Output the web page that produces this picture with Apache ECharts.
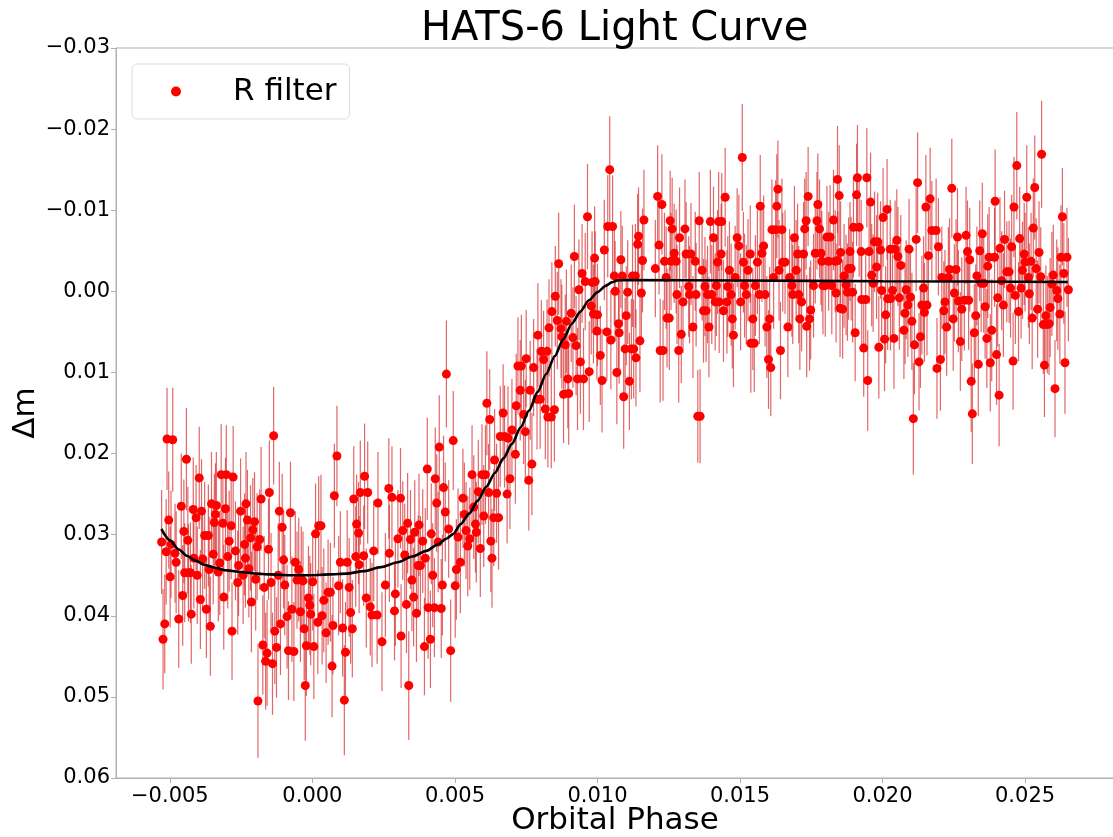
<!DOCTYPE html>
<html>
<head>
<meta charset="utf-8">
<title>HATS-6 Light Curve</title>
<script src="https://cdn.jsdelivr.net/npm/echarts@6/dist/echarts.min.js"></script>
<style>
  html, body { margin: 0; padding: 0; background: #ffffff; }
  #chart { width: 1113px; height: 837px; }
</style>
</head>
<body>
<div id="chart"></div>
<script>
// Observed R-filter photometry: orbital phase, differential magnitude and its 1-sigma error.
const phase = [
  -0.00529, -0.00524, -0.00518, -0.00513, -0.00510, -0.00504, -0.00499, -0.00496, -0.00490, -0.00482,
  -0.00478, -0.00469, -0.00460, -0.00455, -0.00451, -0.00448, -0.00442, -0.00437, -0.00435, -0.00428,
  -0.00425, -0.00418, -0.00416, -0.00408, -0.00404, -0.00397, -0.00393, -0.00389, -0.00385, -0.00378,
  -0.00372, -0.00365, -0.00362, -0.00358, -0.00354, -0.00348, -0.00344, -0.00340, -0.00337, -0.00330,
  -0.00325, -0.00320, -0.00314, -0.00311, -0.00305, -0.00302, -0.00297, -0.00292, -0.00285, -0.00282,
  -0.00278, -0.00270, -0.00262, -0.00259, -0.00252, -0.00243, -0.00238, -0.00235, -0.00233, -0.00228,
  -0.00223, -0.00217, -0.00214, -0.00209, -0.00203, -0.00199, -0.00194, -0.00191, -0.00185, -0.00180,
  -0.00174, -0.00169, -0.00164, -0.00159, -0.00154, -0.00151, -0.00145, -0.00140, -0.00136, -0.00132,
  -0.00126, -0.00120, -0.00116, -0.00112, -0.00106, -0.00101, -0.00097, -0.00089, -0.00084, -0.00077,
  -0.00072, -0.00065, -0.00060, -0.00054, -0.00048, -0.00042, -0.00039, -0.00033, -0.00029, -0.00025,
  -0.00021, -0.00014, -0.00009, -0.00006, 0.00001, 0.00005, 0.00011, 0.00019, 0.00022, 0.00030,
  0.00034, 0.00040, 0.00048, 0.00055, 0.00063, 0.00069, 0.00072, 0.00077, 0.00086, 0.00092,
  0.00098, 0.00106, 0.00112, 0.00116, 0.00122, 0.00129, 0.00134, 0.00140, 0.00145, 0.00152,
  0.00155, 0.00162, 0.00164, 0.00168, 0.00180, 0.00183, 0.00189, 0.00194, 0.00203, 0.00209,
  0.00215, 0.00227, 0.00230, 0.00244, 0.00256, 0.00268, 0.00270, 0.00279, 0.00288, 0.00291,
  0.00300, 0.00309, 0.00311, 0.00317, 0.00324, 0.00330, 0.00334, 0.00338, 0.00344, 0.00349,
  0.00355, 0.00359, 0.00365, 0.00371, 0.00374, 0.00379, 0.00387, 0.00393, 0.00396, 0.00403,
  0.00406, 0.00414, 0.00417, 0.00422, 0.00428, 0.00431, 0.00436, 0.00441, 0.00445, 0.00452,
  0.00456, 0.00460, 0.00466, 0.00470, 0.00478, 0.00485, 0.00494, 0.00501, 0.00505, 0.00511,
  0.00519, 0.00528, 0.00533, 0.00539, 0.00545, 0.00552, 0.00560, 0.00566, 0.00572, 0.00575,
  0.00582, 0.00589, 0.00595, 0.00601, 0.00607, 0.00612, 0.00618, 0.00622, 0.00626, 0.00630,
  0.00636, 0.00639, 0.00646, 0.00653, 0.00659, 0.00669, 0.00674, 0.00683, 0.00686, 0.00693,
  0.00700, 0.00712, 0.00715, 0.00721, 0.00729, 0.00733, 0.00741, 0.00747, 0.00750, 0.00759,
  0.00764, 0.00770, 0.00776, 0.00788, 0.00791, 0.00799, 0.00803, 0.00811, 0.00817, 0.00823,
  0.00826, 0.00830, 0.00838, 0.00840, 0.00849, 0.00852, 0.00859, 0.00864, 0.00872, 0.00875,
  0.00881, 0.00887, 0.00891, 0.00896, 0.00899, 0.00908, 0.00914, 0.00919, 0.00925, 0.00930,
  0.00935, 0.00940, 0.00946, 0.00951, 0.00957, 0.00965, 0.00971, 0.00978, 0.00981, 0.00986,
  0.00990, 0.00992, 0.00998, 0.01000, 0.01010, 0.01016, 0.01024, 0.01033, 0.01036, 0.01043,
  0.01047, 0.01053, 0.01059, 0.01062, 0.01068, 0.01074, 0.01076, 0.01082, 0.01087, 0.01092,
  0.01097, 0.01101, 0.01106, 0.01112, 0.01119, 0.01123, 0.01127, 0.01133, 0.01135, 0.01141,
  0.01144, 0.01149, 0.01154, 0.01158, 0.01163, 0.01203, 0.01211, 0.01216, 0.01220, 0.01226,
  0.01230, 0.01235, 0.01241, 0.01244, 0.01252, 0.01255, 0.01258, 0.01262, 0.01269, 0.01276,
  0.01279, 0.01285, 0.01288, 0.01294, 0.01300, 0.01307, 0.01311, 0.01320, 0.01323, 0.01328,
  0.01335, 0.01343, 0.01346, 0.01352, 0.01357, 0.01360, 0.01367, 0.01372, 0.01377, 0.01381,
  0.01386, 0.01391, 0.01396, 0.01401, 0.01407, 0.01413, 0.01417, 0.01421, 0.01425, 0.01427,
  0.01434, 0.01436, 0.01442, 0.01448, 0.01454, 0.01457, 0.01463, 0.01469, 0.01473, 0.01477,
  0.01483, 0.01490, 0.01496, 0.01502, 0.01508, 0.01512, 0.01516, 0.01522, 0.01528, 0.01536,
  0.01538, 0.01545, 0.01550, 0.01554, 0.01561, 0.01568, 0.01571, 0.01577, 0.01583, 0.01588,
  0.01594, 0.01600, 0.01604, 0.01608, 0.01612, 0.01618, 0.01625, 0.01629, 0.01633, 0.01637,
  0.01642, 0.01647, 0.01650, 0.01658, 0.01668, 0.01674, 0.01682, 0.01685, 0.01691, 0.01697,
  0.01702, 0.01706, 0.01710, 0.01716, 0.01723, 0.01727, 0.01732, 0.01734, 0.01739, 0.01744,
  0.01748, 0.01758, 0.01764, 0.01770, 0.01773, 0.01779, 0.01784, 0.01787, 0.01791, 0.01799,
  0.01805, 0.01811, 0.01816, 0.01822, 0.01828, 0.01834, 0.01837, 0.01842, 0.01843, 0.01848,
  0.01851, 0.01853, 0.01860, 0.01865, 0.01872, 0.01877, 0.01881, 0.01886, 0.01890, 0.01895,
  0.01898, 0.01904, 0.01909, 0.01912, 0.01918, 0.01925, 0.01927, 0.01934, 0.01941, 0.01945,
  0.01948, 0.01953, 0.01958, 0.01962, 0.01967, 0.01972, 0.01979, 0.01983, 0.01987, 0.01993,
  0.01997, 0.02002, 0.02007, 0.02011, 0.02016, 0.02018, 0.02027, 0.02028, 0.02035, 0.02040,
  0.02044, 0.02050, 0.02054, 0.02059, 0.02064, 0.02075, 0.02079, 0.02083, 0.02089, 0.02093,
  0.02098, 0.02103, 0.02108, 0.02112, 0.02118, 0.02123, 0.02128, 0.02133, 0.02138, 0.02144,
  0.02147, 0.02152, 0.02156, 0.02161, 0.02167, 0.02173, 0.02188, 0.02191, 0.02196, 0.02203,
  0.02208, 0.02215, 0.02219, 0.02225, 0.02231, 0.02235, 0.02243, 0.02248, 0.02252, 0.02258,
  0.02263, 0.02266, 0.02273, 0.02278, 0.02287, 0.02293, 0.02298, 0.02302, 0.02306, 0.02311,
  0.02315, 0.02322, 0.02327, 0.02331, 0.02336, 0.02341, 0.02346, 0.02350, 0.02355, 0.02360,
  0.02366, 0.02369, 0.02374, 0.02378, 0.02383, 0.02393, 0.02395, 0.02400, 0.02404, 0.02409,
  0.02412, 0.02418, 0.02424, 0.02428, 0.02436, 0.02444, 0.02449, 0.02453, 0.02458, 0.02461,
  0.02466, 0.02471, 0.02477, 0.02481, 0.02486, 0.02491, 0.02497, 0.02500, 0.02506, 0.02512,
  0.02515, 0.02521, 0.02525, 0.02529, 0.02534, 0.02539, 0.02544, 0.02549, 0.02555, 0.02558,
  0.02564, 0.02568, 0.02573, 0.02578, 0.02584, 0.02588, 0.02594, 0.02599, 0.02605, 0.02611,
  0.02615, 0.02622, 0.02626, 0.02631, 0.02636, 0.02640, 0.02647, 0.02652
];

const deltaMag = [
  0.0309, 0.0429, 0.0410, 0.0321, 0.0182, 0.0282, 0.0352, 0.0312, 0.0183, 0.0323,
  0.0334, 0.0404, 0.0265, 0.0375, 0.0296, 0.0347, 0.0207, 0.0307, 0.0347, 0.0347,
  0.0398, 0.0269, 0.0329, 0.0279, 0.0350, 0.0230, 0.0380, 0.0271, 0.0330, 0.0301,
  0.0392, 0.0301, 0.0343, 0.0413, 0.0262, 0.0324, 0.0285, 0.0275, 0.0264, 0.0346,
  0.0335, 0.0226, 0.0286, 0.0377, 0.0268, 0.0226, 0.0327, 0.0308, 0.0289, 0.0419,
  0.0229, 0.0320, 0.0359, 0.0338, 0.0271, 0.0350, 0.0312, 0.0329, 0.0262, 0.0282,
  0.0342, 0.0304, 0.0383, 0.0294, 0.0284, 0.0355, 0.0315, 0.0505, 0.0306, 0.0256,
  0.0436, 0.0365, 0.0456, 0.0446, 0.0318, 0.0248, 0.0359, 0.0459, 0.0178, 0.0419,
  0.0439, 0.0350, 0.0271, 0.0410, 0.0291, 0.0331, 0.0362, 0.0401, 0.0443, 0.0273,
  0.0392, 0.0444, 0.0334, 0.0356, 0.0343, 0.0395, 0.0355, 0.0357, 0.0416, 0.0486,
  0.0437, 0.0378, 0.0387, 0.0398, 0.0358, 0.0438, 0.0299, 0.0408, 0.0289, 0.0289,
  0.0400, 0.0381, 0.0421, 0.0371, 0.0371, 0.0462, 0.0412, 0.0252, 0.0203, 0.0363,
  0.0334, 0.0415, 0.0504, 0.0445, 0.0334, 0.0365, 0.0396, 0.0416, 0.0256, 0.0327,
  0.0287, 0.0298, 0.0337, 0.0248, 0.0326, 0.0228, 0.0378, 0.0248, 0.0389, 0.0399,
  0.0320, 0.0399, 0.0261, 0.0432, 0.0362, 0.0243, 0.0323, 0.0254, 0.0394, 0.0373,
  0.0305, 0.0255, 0.0425, 0.0295, 0.0325, 0.0386, 0.0286, 0.0486, 0.0306, 0.0356,
  0.0377, 0.0297, 0.0397, 0.0338, 0.0288, 0.0338, 0.0308, 0.0438, 0.0329, 0.0219,
  0.0390, 0.0429, 0.0299, 0.0350, 0.0390, 0.0231, 0.0261, 0.0309, 0.0192, 0.0391,
  0.0362, 0.0242, 0.0272, 0.0102, 0.0293, 0.0443, 0.0184, 0.0363, 0.0343, 0.0303,
  0.0334, 0.0255, 0.0275, 0.0295, 0.0314, 0.0305, 0.0226, 0.0266, 0.0287, 0.0297,
  0.0247, 0.0317, 0.0226, 0.0277, 0.0226, 0.0138, 0.0248, 0.0158, 0.0308, 0.0329,
  0.0279, 0.0208, 0.0249, 0.0279, 0.0179, 0.0150, 0.0179, 0.0250, 0.0181, 0.0231,
  0.0171, 0.0201, 0.0141, 0.0092, 0.0122, 0.0092, 0.0152, 0.0173, 0.0083, 0.0233,
  0.0122, 0.0213, 0.0094, 0.0133, 0.0054, 0.0133, 0.0074, 0.0084, 0.0145, 0.0074,
  0.0155, 0.0045, 0.0155, 0.0025, 0.0146, 0.0006, 0.0036, -0.0034, 0.0046, 0.0056,
  0.0127, 0.0066, 0.0037, 0.0108, 0.0126, 0.0027, 0.0057, -0.0043, 0.0067, 0.0108,
  -0.0002, 0.0087, -0.0022, 0.0108, -0.0012, -0.0092, 0.0099, 0.0018, -0.0011, 0.0028,
  -0.0041, -0.0012, 0.0049, 0.0029, 0.0079, 0.0110, -0.0051, 0.0050, -0.0080, -0.0150,
  0.0060, -0.0080, -0.0019, 0.0000, 0.0100, 0.0040, 0.0051, -0.0039, -0.0019, 0.0130,
  0.0071, 0.0030, 0.0001, 0.0111, 0.0071, -0.0019, 0.0071, -0.0019, 0.0082, -0.0058,
  -0.0068, 0.0061, 0.0002, -0.0038, -0.0088, -0.0028, -0.0117, -0.0057, 0.0073, -0.0107,
  0.0073, -0.0037, -0.0017, 0.0033, 0.0033, -0.0087, -0.0037, -0.0077, -0.0047, -0.0037,
  0.0004, 0.0073, -0.0066, 0.0053, 0.0013, -0.0077, -0.0046, -0.0006, 0.0004, -0.0046,
  0.0044, -0.0037, 0.0004, 0.0154, -0.0087, 0.0154, -0.0026, 0.0024, -0.0006, 0.0024,
  0.0004, 0.0044, -0.0086, 0.0004, -0.0066, 0.0013, -0.0007, -0.0036, -0.0086, 0.0013,
  -0.0046, -0.0086, 0.0024, -0.0116, 0.0013, -0.0006, -0.0026, 0.0004, 0.0034, 0.0054,
  -0.0017, -0.0066, -0.0056, 0.0013, -0.0165, -0.0036, -0.0007, 0.0004, -0.0026, -0.0046,
  0.0064, 0.0034, 0.0064, -0.0007, -0.0036, 0.0004, -0.0105, -0.0047, -0.0056, 0.0004,
  0.0044, 0.0084, 0.0034, 0.0094, -0.0076, -0.0017, -0.0076, -0.0105, -0.0126, -0.0026,
  0.0073, -0.0076, -0.0036, -0.0036, 0.0044, -0.0017, -0.0007, 0.0004, -0.0066, -0.0026,
  -0.0046, 0.0004, 0.0034, 0.0013, -0.0046, -0.0077, -0.0087, 0.0043, -0.0117, 0.0034,
  0.0023, -0.0007, -0.0047, -0.0087, -0.0107, -0.0077, -0.0047, -0.0037, -0.0007, -0.0007,
  -0.0067, -0.0037, -0.0067, -0.0007, -0.0088, -0.0037, 0.0002, -0.0138, -0.0038, -0.0118,
  0.0021, -0.0048, 0.0022, -0.0019, -0.0008, 0.0001, -0.0028, -0.0049, -0.0028, 0.0001,
  -0.0079, 0.0051, -0.0119, -0.0140, -0.0079, -0.0049, 0.0010, 0.0070, 0.0010, -0.0140,
  0.0110, -0.0049, -0.0110, -0.0020, -0.0010, -0.0061, -0.0030, -0.0061, 0.0069, -0.0051,
  -0.0001, -0.0091, 0.0059, 0.0029, -0.0101, 0.0009, -0.0052, 0.0009, -0.0001, 0.0058,
  -0.0052, -0.0063, -0.0043, 0.0008, -0.0032, 0.0048, 0.0027, -0.0002, 0.0017, -0.0052,
  0.0007, 0.0037, 0.0157, 0.0066, -0.0064, -0.0134, 0.0087, 0.0056, 0.0017, -0.0004,
  0.0026, -0.0104, 0.0017, -0.0044, -0.0114, -0.0075, -0.0075, 0.0095, -0.0055, 0.0084,
  -0.0017, 0.0024, 0.0013, 0.0044, -0.0017, -0.0027, -0.0127, 0.0034, 0.0002, -0.0027,
  -0.0067, 0.0012, 0.0062, 0.0022, 0.0011, -0.0069, -0.0049, 0.0011, -0.0039, 0.0111,
  0.0151, 0.0051, 0.0030, -0.0019, 0.0090, -0.0050, -0.0010, -0.0071, -0.0010, 0.0019,
  0.0058, -0.0031, -0.0042, 0.0088, 0.0048, -0.0042, -0.0111, 0.0078, 0.0008, 0.0128,
  -0.0053, -0.0013, 0.0017, -0.0064, -0.0024, -0.0024, -0.0004, -0.0055, 0.0086, -0.0104,
  0.0005, -0.0155, 0.0025, -0.0065, -0.0004, -0.0026, -0.0046, -0.0036, -0.0116, -0.0017,
  0.0003, -0.0037, 0.0033, -0.0078, -0.0128, -0.0028, 0.0022, -0.0048, -0.0018, -0.0169,
  0.0041, 0.0091, 0.0030, 0.0041, 0.0040, 0.0020, -0.0009, -0.0020, 0.0120, -0.0001,
  0.0009, 0.0028, -0.0042, -0.0092, -0.0022, 0.0088, -0.0042, -0.0002
];

const deltaMagErr = [
  0.0064, 0.0062, 0.0061, 0.0065, 0.0063, 0.0060, 0.0062, 0.0066, 0.0064, 0.0061,
  0.0063, 0.0060, 0.0065, 0.0062, 0.0064, 0.0061, 0.0063, 0.0066, 0.0060, 0.0062,
  0.0061, 0.0064, 0.0062, 0.0065, 0.0060, 0.0063, 0.0061, 0.0064, 0.0062, 0.0066,
  0.0060, 0.0063, 0.0065, 0.0061, 0.0064, 0.0062, 0.0060, 0.0063, 0.0066, 0.0061,
  0.0064, 0.0062, 0.0060, 0.0065, 0.0063, 0.0061, 0.0064, 0.0062, 0.0066, 0.0060,
  0.0063, 0.0061, 0.0064, 0.0062, 0.0065, 0.0060, 0.0063, 0.0061, 0.0064, 0.0062,
  0.0060, 0.0065, 0.0062, 0.0064, 0.0061, 0.0063, 0.0066, 0.0070, 0.0062, 0.0064,
  0.0061, 0.0063, 0.0060, 0.0065, 0.0062, 0.0064, 0.0061, 0.0063, 0.0060, 0.0065,
  0.0062, 0.0064, 0.0061, 0.0063, 0.0066, 0.0060, 0.0062, 0.0064, 0.0061, 0.0063,
  0.0065, 0.0061, 0.0063, 0.0060, 0.0064, 0.0062, 0.0065, 0.0061, 0.0063, 0.0068,
  0.0062, 0.0064, 0.0061, 0.0063, 0.0060, 0.0065, 0.0062, 0.0064, 0.0061, 0.0063,
  0.0060, 0.0064, 0.0062, 0.0065, 0.0061, 0.0063, 0.0060, 0.0064, 0.0062, 0.0061,
  0.0063, 0.0060, 0.0068, 0.0062, 0.0064, 0.0061, 0.0063, 0.0060, 0.0065, 0.0062,
  0.0061, 0.0063, 0.0060, 0.0064, 0.0062, 0.0065, 0.0061, 0.0063, 0.0060, 0.0064,
  0.0062, 0.0060, 0.0063, 0.0061, 0.0064, 0.0062, 0.0060, 0.0063, 0.0061, 0.0064,
  0.0060, 0.0062, 0.0064, 0.0061, 0.0063, 0.0060, 0.0062, 0.0067, 0.0061, 0.0063,
  0.0061, 0.0064, 0.0060, 0.0062, 0.0063, 0.0061, 0.0064, 0.0060, 0.0062, 0.0063,
  0.0063, 0.0060, 0.0062, 0.0064, 0.0061, 0.0063, 0.0060, 0.0062, 0.0064, 0.0061,
  0.0062, 0.0064, 0.0061, 0.0066, 0.0060, 0.0063, 0.0061, 0.0064, 0.0062, 0.0060,
  0.0063, 0.0061, 0.0064, 0.0060, 0.0062, 0.0063, 0.0061, 0.0064, 0.0060, 0.0062,
  0.0064, 0.0060, 0.0062, 0.0063, 0.0061, 0.0064, 0.0060, 0.0062, 0.0063, 0.0061,
  0.0060, 0.0063, 0.0061, 0.0064, 0.0062, 0.0060, 0.0063, 0.0061, 0.0064, 0.0062,
  0.0063, 0.0061, 0.0064, 0.0060, 0.0062, 0.0063, 0.0061, 0.0064, 0.0060, 0.0062,
  0.0061, 0.0063, 0.0060, 0.0062, 0.0064, 0.0061, 0.0063, 0.0060, 0.0062, 0.0064,
  0.0062, 0.0060, 0.0063, 0.0061, 0.0064, 0.0062, 0.0060, 0.0063, 0.0061, 0.0064,
  0.0060, 0.0062, 0.0064, 0.0061, 0.0063, 0.0060, 0.0062, 0.0064, 0.0061, 0.0063,
  0.0062, 0.0064, 0.0061, 0.0063, 0.0060, 0.0065, 0.0062, 0.0060, 0.0063, 0.0061,
  0.0064, 0.0062, 0.0060, 0.0063, 0.0061, 0.0064, 0.0062, 0.0060, 0.0063, 0.0066,
  0.0061, 0.0063, 0.0060, 0.0062, 0.0064, 0.0061, 0.0063, 0.0060, 0.0062, 0.0064,
  0.0063, 0.0061, 0.0064, 0.0060, 0.0062, 0.0063, 0.0061, 0.0064, 0.0060, 0.0062,
  0.0060, 0.0063, 0.0061, 0.0064, 0.0062, 0.0060, 0.0063, 0.0061, 0.0064, 0.0062,
  0.0062, 0.0060, 0.0063, 0.0061, 0.0064, 0.0062, 0.0060, 0.0063, 0.0061, 0.0064,
  0.0061, 0.0064, 0.0062, 0.0060, 0.0063, 0.0061, 0.0064, 0.0062, 0.0060, 0.0063,
  0.0063, 0.0061, 0.0064, 0.0057, 0.0060, 0.0058, 0.0062, 0.0064, 0.0061, 0.0063,
  0.0060, 0.0062, 0.0064, 0.0061, 0.0063, 0.0060, 0.0062, 0.0064, 0.0061, 0.0063,
  0.0062, 0.0060, 0.0063, 0.0061, 0.0064, 0.0062, 0.0060, 0.0063, 0.0061, 0.0064,
  0.0064, 0.0061, 0.0063, 0.0060, 0.0066, 0.0062, 0.0064, 0.0061, 0.0063, 0.0060,
  0.0061, 0.0063, 0.0060, 0.0062, 0.0064, 0.0061, 0.0063, 0.0060, 0.0062, 0.0064,
  0.0063, 0.0061, 0.0064, 0.0060, 0.0062, 0.0063, 0.0061, 0.0064, 0.0060, 0.0062,
  0.0060, 0.0063, 0.0061, 0.0064, 0.0062, 0.0060, 0.0063, 0.0061, 0.0064, 0.0062,
  0.0062, 0.0060, 0.0063, 0.0061, 0.0064, 0.0062, 0.0060, 0.0063, 0.0061, 0.0064,
  0.0061, 0.0064, 0.0062, 0.0060, 0.0063, 0.0061, 0.0064, 0.0062, 0.0060, 0.0063,
  0.0063, 0.0061, 0.0064, 0.0060, 0.0062, 0.0063, 0.0061, 0.0066, 0.0060, 0.0062,
  0.0060, 0.0063, 0.0061, 0.0064, 0.0062, 0.0060, 0.0063, 0.0061, 0.0064, 0.0062,
  0.0062, 0.0060, 0.0063, 0.0065, 0.0061, 0.0064, 0.0062, 0.0060, 0.0063, 0.0061,
  0.0062, 0.0064, 0.0061, 0.0063, 0.0060, 0.0062, 0.0064, 0.0061, 0.0063, 0.0060,
  0.0063, 0.0061, 0.0064, 0.0060, 0.0062, 0.0063, 0.0061, 0.0064, 0.0060, 0.0062,
  0.0060, 0.0063, 0.0061, 0.0064, 0.0062, 0.0060, 0.0063, 0.0061, 0.0064, 0.0062,
  0.0062, 0.0060, 0.0069, 0.0061, 0.0064, 0.0062, 0.0060, 0.0063, 0.0061, 0.0064,
  0.0061, 0.0064, 0.0062, 0.0060, 0.0063, 0.0061, 0.0064, 0.0062, 0.0060, 0.0063,
  0.0063, 0.0061, 0.0064, 0.0060, 0.0062, 0.0063, 0.0061, 0.0064, 0.0060, 0.0062,
  0.0060, 0.0063, 0.0061, 0.0064, 0.0062, 0.0060, 0.0063, 0.0061, 0.0064, 0.0062,
  0.0062, 0.0060, 0.0063, 0.0061, 0.0064, 0.0062, 0.0060, 0.0063, 0.0061, 0.0064,
  0.0061, 0.0064, 0.0062, 0.0060, 0.0063, 0.0061, 0.0064, 0.0062, 0.0060, 0.0063,
  0.0063, 0.0061, 0.0064, 0.0060, 0.0062, 0.0063, 0.0061, 0.0064, 0.0060, 0.0062,
  0.0060, 0.0066, 0.0061, 0.0064, 0.0062, 0.0060, 0.0063, 0.0061, 0.0064, 0.0062,
  0.0062, 0.0060, 0.0063, 0.0061, 0.0064, 0.0062, 0.0060, 0.0063, 0.0061, 0.0066,
  0.0061, 0.0064, 0.0062, 0.0060, 0.0063, 0.0061, 0.0064, 0.0062, 0.0060, 0.0063,
  0.0063, 0.0061, 0.0064, 0.0060, 0.0062, 0.0063, 0.0061, 0.0064
];

// Best-fit transit model, sampled along the phase axis.
const modelPhase = [
  -0.0053, -0.0050, -0.0047, -0.0044, -0.0041, -0.0038, -0.0034, -0.0030, -0.0025, -0.0020,
  -0.0015, -0.0008, 0.0000, 0.0006, 0.0012, 0.0018, 0.0024, 0.0030, 0.0035, 0.0040,
  0.0044, 0.0047, 0.00495, 0.0052, 0.0055, 0.0058, 0.0061, 0.0064, 0.0067, 0.0070,
  0.0073, 0.0076, 0.0079, 0.0082, 0.0085, 0.0088, 0.0091, 0.0094, 0.0097, 0.0100,
  0.0103, 0.0105, 0.0107, 0.0110, 0.0150, 0.0200, 0.0265
];
const modelMag = [
  0.0293, 0.0307, 0.0318, 0.0326, 0.0332, 0.0337, 0.0341, 0.0344, 0.0346, 0.0348,
  0.0349, 0.0350, 0.0350, 0.0349, 0.0348, 0.0345, 0.0340, 0.0334, 0.0327, 0.0320,
  0.0312, 0.0305, 0.0299, 0.0287, 0.0274, 0.0258, 0.0241, 0.0224, 0.0206, 0.0188,
  0.0168, 0.0147, 0.0124, 0.0102, 0.0080, 0.0059, 0.0040, 0.0025, 0.0011, 0.0001,
  -0.0007, -0.0011, -0.00135, -0.00138, -0.00134, -0.00125, -0.00115
];

// Axis ticks
const xTicks = [-0.005, 0.000, 0.005, 0.010, 0.015, 0.020, 0.025];
const xRange = [-0.00689, 0.02812];
const yRange = [-0.03, 0.06];
const yStep = 0.01;

const FONT = 'DejaVu Sans';
const SPINE = '#b0b0b0';

const n = Math.min(phase.length, deltaMag.length, deltaMagErr.length);
const points = [];
const bars = [];
for (let i = 0; i < n; i++) {
  points.push([phase[i], deltaMag[i]]);
  bars.push([phase[i], deltaMag[i], deltaMagErr[i]]);
}
const model = modelPhase.map((p, i) => [p, modelMag[i]]);

function minusSign(s) { return s.replace('-', '\u2212'); }

const chart = echarts.init(document.getElementById('chart'), null, { renderer: 'canvas' });

chart.setOption({
  animation: false,
  backgroundColor: '#ffffff',
  textStyle: { fontFamily: FONT },
  title: {
    text: 'HATS-6 Light Curve',
    left: 416,
    top: 5,
    textStyle: { fontFamily: FONT, fontSize: 40, fontWeight: 'normal', color: '#000000' }
  },
  legend: {
    left: 132,
    top: 64,
    padding: [10, 13, 10, 39],
    itemWidth: 38,
    itemHeight: 10,
    backgroundColor: '#ffffff',
    borderColor: '#dddddd',
    borderWidth: 1,
    borderRadius: 5,
    data: [{ name: 'R filter', icon: 'circle' }],
    textStyle: {
      fontFamily: FONT,
      fontSize: 31,
      color: '#000000',
      lineHeight: 35,
      padding: [0, 0, 0, 33]
    }
  },
  grid: {
    left: 116,
    right: -1,
    top: 48,
    bottom: 59,
    outerBoundsMode: 'none',
    containLabel: false,
    show: true,
    borderColor: SPINE,
    borderWidth: 1,
    backgroundColor: 'transparent'
  },
  xAxis: {
    type: 'value',
    min: xRange[0],
    max: xRange[1],
    name: 'Orbital Phase',
    nameLocation: 'middle',
    nameGap: 27,
    nameMoveOverlap: false,
    nameTextStyle: { fontFamily: FONT, fontSize: 31, color: '#000000' },
    axisLine: { show: true, onZero: false, lineStyle: { color: SPINE, width: 1 } },
    axisTick: { show: true, length: 5, inside: false, customValues: xTicks, lineStyle: { color: SPINE } },
    axisLabel: {
      customValues: xTicks,
      margin: 8,
      fontFamily: FONT,
      fontSize: 21,
      color: '#000000',
      formatter: v => minusSign(v.toFixed(3))
    },
    splitLine: { show: false }
  },
  yAxis: {
    type: 'value',
    inverse: true,
    min: yRange[0],
    max: yRange[1],
    interval: yStep,
    name: '\u0394m',
    nameLocation: 'middle',
    nameRotate: 90,
    nameGap: 75,
    nameMoveOverlap: false,
    nameTextStyle: { fontFamily: FONT, fontSize: 31, color: '#000000' },
    axisLine: { show: true, onZero: false, lineStyle: { color: SPINE, width: 1 } },
    axisTick: { show: true, length: 5, inside: false, lineStyle: { color: SPINE } },
    axisLabel: {
      margin: 6,
      fontFamily: FONT,
      fontSize: 21,
      color: '#000000',
      formatter: v => (Math.abs(v) < 1e-9 ? '0.00' : minusSign(v.toFixed(2)))
    },
    splitLine: { show: false }
  },
  series: [
    {
      name: 'error',
      type: 'custom',
      data: bars,
      z: 1,
      silent: true,
      clip: true,
      encode: { x: 0, y: 1 },
      renderItem: (params, api) => {
        const x = api.value(0);
        const y = api.value(1);
        const e = api.value(2);
        const a = api.coord([x, y - e]);
        const b = api.coord([x, y + e]);
        return {
          type: 'line',
          shape: { x1: a[0], y1: a[1], x2: b[0], y2: b[1] },
          style: { stroke: 'rgba(214, 39, 40, 0.7)', lineWidth: 1.2 }
        };
      }
    },
    {
      name: 'R filter',
      type: 'scatter',
      data: points,
      z: 2,
      symbol: 'circle',
      symbolSize: 9,
      itemStyle: { color: '#ff0000', opacity: 1 },
      silent: true
    },
    {
      name: 'model',
      type: 'line',
      data: model,
      z: 3,
      symbol: 'none',
      smooth: 0.25,
      smoothMonotone: 'x',
      lineStyle: { color: '#000000', width: 2.6 },
      silent: true
    }
  ]
});
</script>
</body>
</html>
